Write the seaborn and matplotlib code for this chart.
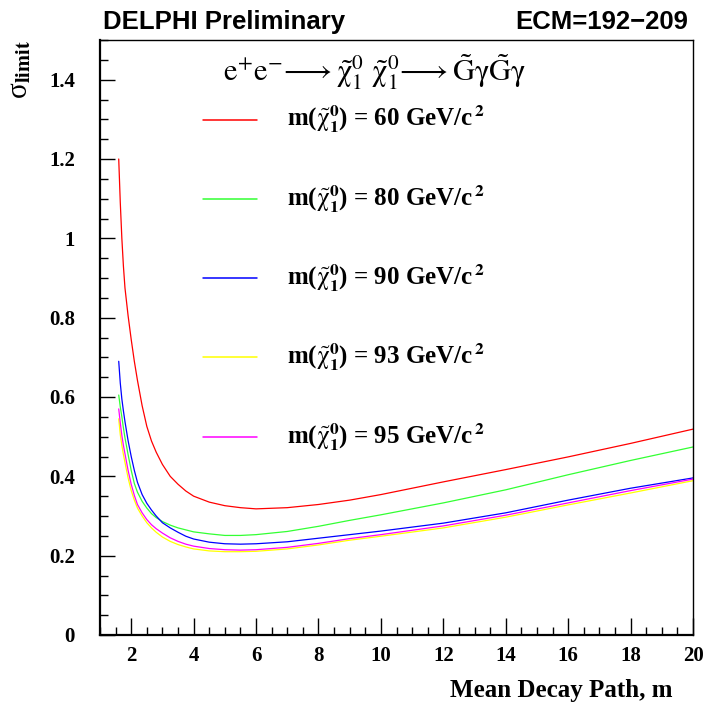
import numpy as np
import pandas as pd
import seaborn as sns
import matplotlib
matplotlib.use("Agg")
import matplotlib.pyplot as plt
from matplotlib.ticker import MultipleLocator, FuncFormatter

# ---- data ----
decay_path = [1.6, 1.65, 1.7, 1.75, 1.8, 1.9, 2.0, 2.1, 2.2, 2.35, 2.5, 2.65, 2.8, 3.0,
              3.25, 3.5, 3.75, 4.0, 4.5, 5.0, 5.5, 6.0, 7.0, 8.0, 9.0, 10.0, 12.0, 14.0,
              16.0, 18.0, 20.0]
sigma_60 = [1.20, 1.09, 1.00, 0.93, 0.875, 0.805, 0.745, 0.690, 0.642, 0.578, 0.526, 0.489,
            0.461, 0.430, 0.400, 0.380, 0.363, 0.350, 0.335, 0.326, 0.321, 0.318, 0.321,
            0.329, 0.340, 0.354, 0.386, 0.417, 0.449, 0.483, 0.519]
sigma_80 = [0.605, 0.575, 0.550, 0.522, 0.497, 0.455, 0.415, 0.382, 0.360, 0.337, 0.320,
            0.306, 0.296, 0.286, 0.277, 0.270, 0.265, 0.260, 0.255, 0.251, 0.251, 0.253,
            0.261, 0.274, 0.289, 0.303, 0.333, 0.366, 0.404, 0.440, 0.474]
sigma_90 = [0.690, 0.635, 0.595, 0.565, 0.538, 0.490, 0.450, 0.415, 0.385, 0.354, 0.332,
            0.315, 0.300, 0.283, 0.270, 0.259, 0.249, 0.242, 0.234, 0.230, 0.229, 0.230,
            0.235, 0.244, 0.253, 0.262, 0.282, 0.308, 0.340, 0.370, 0.396]
sigma_93 = [0.545, 0.505, 0.478, 0.455, 0.435, 0.396, 0.364, 0.340, 0.320, 0.300, 0.283,
            0.270, 0.259, 0.247, 0.236, 0.228, 0.222, 0.217, 0.212, 0.210, 0.210, 0.211,
            0.217, 0.227, 0.239, 0.249, 0.270, 0.297, 0.328, 0.358, 0.389]
sigma_95 = [0.570, 0.535, 0.503, 0.478, 0.457, 0.415, 0.380, 0.352, 0.329, 0.308, 0.291,
            0.278, 0.268, 0.257, 0.245, 0.236, 0.229, 0.224, 0.218, 0.215, 0.214, 0.215,
            0.221, 0.231, 0.243, 0.253, 0.275, 0.302, 0.333, 0.364, 0.393]
masses = ["60", "80", "90", "93", "95"]
colors = ["#ff0000", "#33ff33", "#0000ff", "#ffff00", "#ff00ff"]

series = [sigma_60, sigma_80, sigma_90, sigma_93, sigma_95]
df = pd.concat([pd.DataFrame({"x": decay_path, "y": s, "mass": m})
                for s, m in zip(series, masses)], ignore_index=True)

sns.set_theme(style="white")
plt.rcParams["font.family"] = ["Liberation Serif", "DejaVu Sans"]
plt.rcParams["mathtext.fontset"] = "stix"
for k in ["text.color", "axes.labelcolor", "xtick.color", "ytick.color", "axes.edgecolor"]:
    plt.rcParams[k] = "black"

fig = plt.figure(figsize=(7.05, 7.04), dpi=100)
ax = fig.add_axes([100/705, 69/704, 593/705, 595/704])

sns.lineplot(data=df, x="x", y="y", hue="mass", palette=colors, hue_order=masses,
             ax=ax, legend=False, linewidth=0.9, sort=True, estimator=None)

ax.set_xlim(1, 20)
ax.set_ylim(0, 1.5)
ax.xaxis.set_major_locator(MultipleLocator(2))
ax.xaxis.set_minor_locator(MultipleLocator(0.5))
ax.yaxis.set_major_locator(MultipleLocator(0.2))
ax.yaxis.set_minor_locator(MultipleLocator(0.05))
ax.yaxis.set_major_formatter(FuncFormatter(lambda v, p: "%g" % round(v, 2)))
ax.xaxis.set_major_formatter(FuncFormatter(lambda v, p: "%g" % v))
ax.tick_params(axis="both", which="both", direction="in", bottom=True, left=True,
               top=False, right=False, color="black")
ax.tick_params(axis="x", which="major", length=12, width=1.0, pad=8)
ax.tick_params(axis="x", which="minor", length=6, width=1.0)
ax.tick_params(axis="y", which="major", length=11, width=1.0, pad=18)
ax.tick_params(axis="y", which="minor", length=5.5, width=1.0)
for lab in ax.get_xticklabels() + ax.get_yticklabels():
    lab.set_fontweight("bold")
    lab.set_fontsize(15)
    lab.set_fontfamily("Liberation Serif")
    lab.set_color("black")
ax.set_xlabel("")
ax.set_ylabel("")
for side in ["left", "bottom"]:
    ax.spines[side].set_linewidth(1.6)
for side in ["top", "right"]:
    ax.spines[side].set_linewidth(1.0)
for sp in ax.spines.values():
    sp.set_color("black")

# axis titles
fig.text(672/705, 1 - 690/704, "Mean Decay Path, m", ha="right", va="center",
         fontsize=18, fontweight="bold", family="Liberation Serif", color="black")
fig.text(20/705, 1 - 40/704, "\u03c3" + r"$_{\mathbf{limit}}$", ha="center", va="top",
         rotation=90, fontsize=21, family="Liberation Serif", color="black")

# header texts
fig.text(103/705, 1 - 22/704, "DELPHI Preliminary", ha="left", va="center",
         fontsize=18.5, fontweight="bold", family="Liberation Sans", color="black")
fig.text(688/705, 1 - 22/704, "ECM=192\u2212209", ha="right", va="center",
         fontsize=18.5, fontweight="bold", family="Liberation Sans", color="black")

# process formula
ax.text(0.463, 0.946,
        r"$\mathrm{e^{+}e^{-}}\!\longrightarrow\tilde{\mathrm{\chi}}_1^0\ \tilde{\mathrm{\chi}}_1^0\!\longrightarrow\tilde{\mathrm{G}}\mathrm{\gamma}\tilde{\mathrm{G}}\mathrm{\gamma}$",
        transform=ax.transAxes, ha="center", va="center", fontsize=22, color="black")

# legend (manual, as in the original)
leg_y = [0.866, 0.733, 0.600, 0.467, 0.333]
for m, c, yy in zip(masses, colors, leg_y):
    ax.plot([0.174, 0.265], [yy, yy], color=c, linewidth=1.1, transform=ax.transAxes)
    ax.text(0.315, yy, r"m($\tilde{\mathrm{\chi}}_{\mathbf{1}}^{\mathbf{0}}$) = " + m + r" GeV/c$^{\,\mathbf{2}}$",
            transform=ax.transAxes, ha="left", va="center", fontsize=18,
            fontweight="bold", family="Liberation Serif", color="black")

fig.savefig("out.png", dpi=100, facecolor="white")
